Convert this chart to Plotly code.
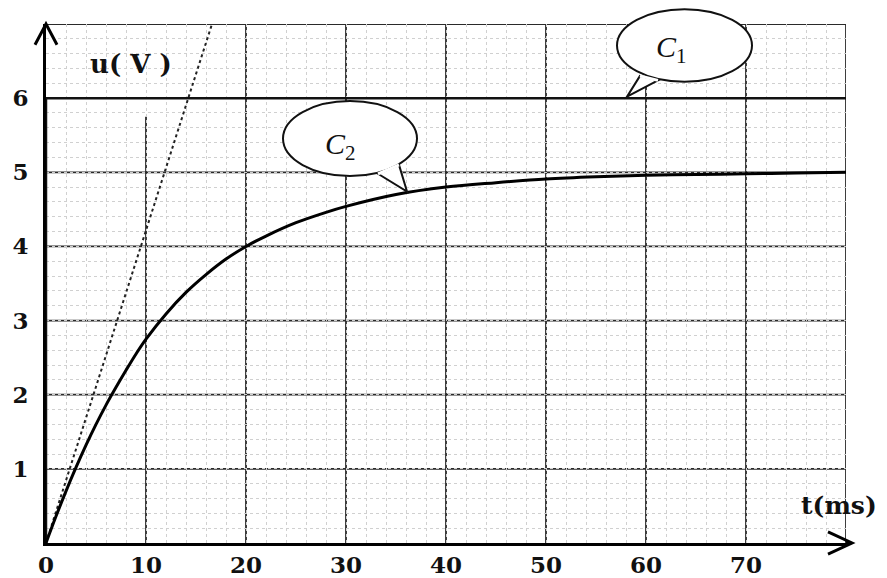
import plotly.graph_objects as go

# ---- data ----
t_c2 = [0, 1, 2, 3, 4, 5, 6, 7, 8, 9, 10, 12, 14, 16, 18, 20, 22, 25, 28, 30,
        35, 40, 45, 50, 55, 60, 65, 70, 75, 80]
u_c2 = [0, 0.36, 0.70, 1.02, 1.32, 1.60, 1.86, 2.10, 2.33, 2.55, 2.75, 3.09,
        3.38, 3.62, 3.83, 4.00, 4.14, 4.32, 4.46, 4.54, 4.70, 4.80, 4.86, 4.91,
        4.94, 4.96, 4.97, 4.98, 4.99, 5.00]
t_c1 = [0, 0, 80]
u_c1 = [0, 6, 6]
t_tan = [0, 16.6]
u_tan = [0, 7.0]

x_ticks = [0, 10, 20, 30, 40, 50, 60, 70]
y_ticks = [1, 2, 3, 4, 5, 6]
x_major = [10, 20, 30, 40, 50, 60, 70, 80]
y_major = [1, 2, 3, 4, 5, 6, 7]

XMAX, YMAX = 80, 7
def px(t):
    return t / XMAX
def py(u):
    return u / YMAX

fig = go.Figure()

fig.add_trace(go.Scatter(x=t_tan, y=u_tan, mode="lines",
                         line=dict(color="#222", width=2, dash="dot"),
                         hoverinfo="skip", showlegend=False))
fig.add_trace(go.Scatter(x=t_c1, y=u_c1, mode="lines",
                         line=dict(color="#111", width=2.5),
                         showlegend=False, name="C1"))
fig.add_trace(go.Scatter(x=t_c2, y=u_c2, mode="lines", line_shape="spline",
                         line=dict(color="#000", width=3),
                         showlegend=False, name="C2"))

shapes = []
# major grid
for t in x_major:
    top = 5.75 if t == 10 else YMAX
    shapes.append(dict(type="line", xref="x", yref="y", x0=t, x1=t, y0=0, y1=top,
                       line=dict(color="#2a2a2a", width=1.8), layer="below"))
for u in y_major:
    shapes.append(dict(type="line", xref="x", yref="y", x0=0, x1=XMAX, y0=u, y1=u,
                       line=dict(color="#2a2a2a", width=1.8), layer="below"))
# arrow heads
shapes.append(dict(type="path", xref="paper", yref="paper",
                   path=f"M {px(-1.1)},{py(6.72)} L {px(0)},{py(7.0)} L {px(1.1)},{py(6.72)}",
                   line=dict(color="#000", width=3)))
shapes.append(dict(type="path", xref="paper", yref="paper",
                   path=f"M {px(78.2)},{py(0.15)} L {px(80.6)},{py(0)} L {px(78.2)},{py(-0.15)}",
                   line=dict(color="#000", width=3)))
shapes.append(dict(type="line", xref="paper", yref="paper",
                   x0=px(80), x1=px(80.5), y0=0, y1=0, line=dict(color="#000", width=3)))
# speech bubbles
def bubble(x0, x1, y0, y1, tail):
    shapes.append(dict(type="circle", xref="paper", yref="paper",
                       x0=px(x0), x1=px(x1), y0=py(y0), y1=py(y1),
                       fillcolor="white", line=dict(color="#111", width=2)))
    (a, b), (c, d), (e, f) = tail
    shapes.append(dict(type="path", xref="paper", yref="paper",
                       path=f"M {px(a)},{py(b)} L {px(c)},{py(d)} L {px(e)},{py(f)} Z",
                       fillcolor="white", line=dict(color="#111", width=2)))
    shapes.append(dict(type="line", xref="paper", yref="paper",
                       x0=px(a), y0=py(b), x1=px(e), y1=py(f),
                       line=dict(color="white", width=3)))

bubble(57.1, 70.6, 6.22, 7.20, [(59.4, 6.30), (58.1, 6.02), (61.2, 6.24)])
bubble(23.7, 37.1, 4.95, 5.96, [(35.3, 5.10), (36.1, 4.74), (33.2, 4.98)])

fig.update_layout(shapes=shapes)

ann_font = dict(family="DejaVu Serif", size=26, color="#111", weight="bold")
common = dict(xref="paper", yref="paper", showarrow=False,
              xanchor="center", yanchor="middle")
fig.add_annotation(x=px(8.5), y=py(6.46), text="u( V )", font=ann_font, **common)
fig.add_annotation(x=px(79.3), y=py(0.51), text="t(ms)",
                   font=dict(family="DejaVu Serif", size=25, color="#111", weight="bold"),
                   **common)
fig.add_annotation(x=px(62.5), y=py(6.66), text="<i>C</i><sub>1</sub>",
                   font=dict(family="Liberation Serif", size=30, color="#111"), **common)
fig.add_annotation(x=px(29.4), y=py(5.36), text="<i>C</i><sub>2</sub>",
                   font=dict(family="Liberation Serif", size=30, color="#111"), **common)

fig.update_xaxes(range=[0, XMAX], tickvals=x_ticks, ticktext=[str(v) for v in x_ticks],
                 showgrid=False, zeroline=False, showline=True, linecolor="#000",
                 linewidth=3, ticks="",
                 tickfont=dict(family="DejaVu Serif", size=23, color="#111", weight="bold"),
                 ticklabelstandoff=-1, automargin=False,
                 minor=dict(dtick=2, tick0=0, showgrid=True, gridcolor="#d0d0d0",
                            griddash="dot", gridwidth=1))
fig.update_yaxes(range=[0, YMAX], tickvals=y_ticks, ticktext=[str(v) for v in y_ticks],
                 showgrid=False, zeroline=False, showline=True, linecolor="#000",
                 linewidth=3, ticks="",
                 tickfont=dict(family="DejaVu Serif", size=23, color="#111", weight="bold"),
                 ticklabelstandoff=10, automargin=False,
                 minor=dict(dtick=0.2, tick0=0, showgrid=True, gridcolor="#d0d0d0",
                            griddash="dot", gridwidth=1))

# the page adds an 8px body margin, so the figure is sized to fit the window
fig.update_layout(width=879, height=570, margin=dict(l=38, r=41, t=16, b=35),
                  paper_bgcolor="white", plot_bgcolor="white")

fig.write_html("out.html")
